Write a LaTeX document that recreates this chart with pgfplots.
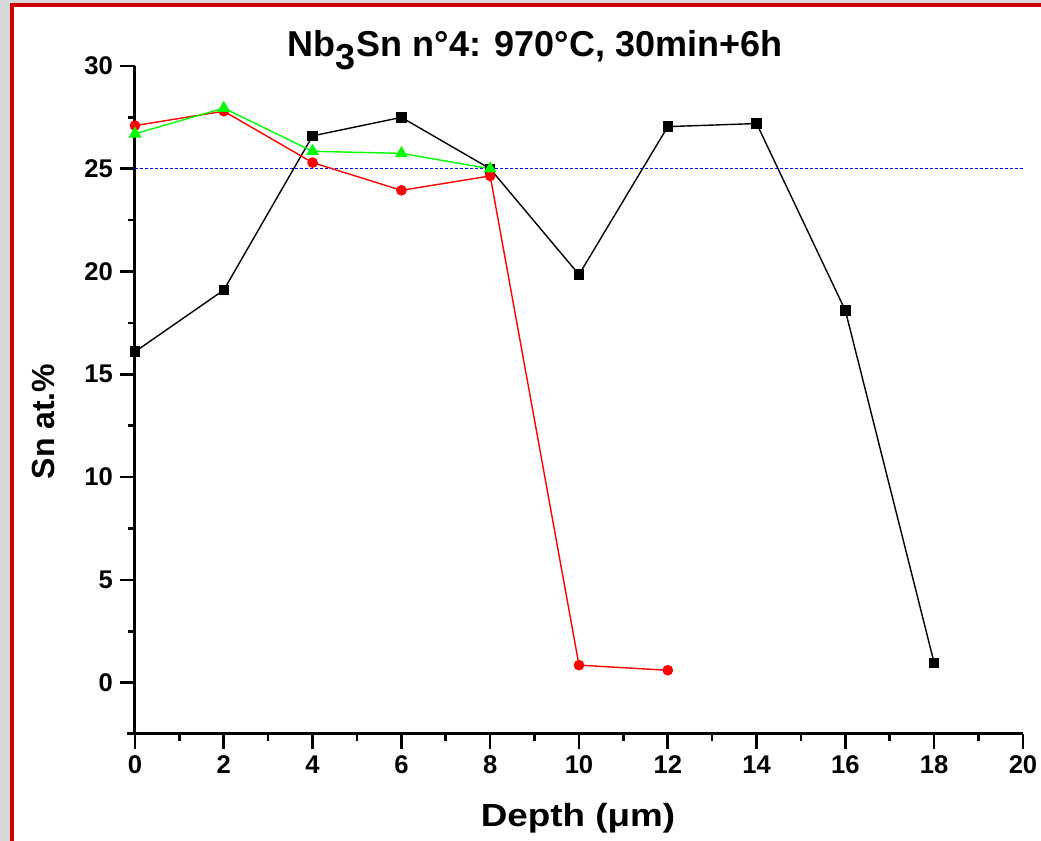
\documentclass[border=0pt]{standalone}
\usepackage{pgfplots}
\pgfplotsset{compat=1.18}
\usepackage{fontspec}
\setmainfont{Liberation Sans}
\definecolor{bordred}{RGB}{204,0,0}
\definecolor{bggray}{RGB}{216,216,216}
\definecolor{mygreen}{RGB}{0,255,0}
\definecolor{myred}{RGB}{255,0,0}
\definecolor{myblue}{RGB}{0,0,255}
\begin{document}
\begin{tikzpicture}
\path[use as bounding box] (0,0) rectangle (520.5pt,420.5pt);
\fill[bggray] (0,0) rectangle (520.5pt,420.5pt);
\fill[white] (7pt,0) rectangle (520.5pt,417pt);
\fill[bordred] (5pt,0) rectangle (7pt,419pt);
\fill[bordred] (5pt,417pt) rectangle (520.5pt,419pt);
\begin{axis}[
  at={(67.5pt,53.5pt)}, anchor=south west,
  scale only axis, width=444pt, height=334pt,
  xmin=0, xmax=20, ymin=-2.5, ymax=30,
  axis x line*=bottom, axis y line*=left,
  axis line style={line width=1.5pt},
  x axis line style={shorten <=-4pt},
  xtick={0,2,...,20}, minor xtick={1,3,...,19},
  ytick={0,5,...,30}, minor ytick={2.5,7.5,...,27.5},
  tick align=outside,
  major tick length=7.5pt, minor tick length=3.5pt,
  every tick/.style={black, line width=1.3pt},
  tick label style={font=\fontsize{12.8}{12.8}\selectfont\bfseries},
  /pgf/number format/assume math mode=true,
  clip=false,
  every axis title shift=0pt,
  title={Nb\textsubscript{\fontsize{18}{18}\selectfont 3}Sn n°4: 970°C, 30min+6h},
  title style={font=\fontsize{18}{18}\selectfont\bfseries, at={(axis description cs:0.4505,1.0139)}, anchor=base, yshift=0pt, inner sep=0pt},
  xlabel={Depth (μm)},
  xlabel style={font=\fontsize{16}{16}\selectfont\bfseries, xscale=1.15, at={(axis description cs:0.4989,-0.1392)}, anchor=base, inner sep=0pt},
  ylabel={Sn at.\%},
  ylabel style={font=\fontsize{16}{16}\selectfont\bfseries, at={(axis description cs:-0.0901,0.4678)}, anchor=base, inner sep=0pt},
]
\addplot[myblue, line width=0.6pt, dash pattern=on 1.5pt off 1pt] coordinates {(0,25) (20,25)};
\addplot[black, line width=0.7pt, mark=square*, mark size=2.25pt, mark options={solid}] coordinates {
(0,16.1) (2,19.1) (4,26.6) (6,27.5) (8,25.0) (10,19.85) (12,27.05) (14,27.2) (16,18.1) (18,0.95)};
\addplot[myred, line width=0.7pt, mark=*, mark size=2.3pt, mark options={solid}] coordinates {
(0,27.1) (2,27.8) (4,25.3) (6,23.95) (8,24.65) (10,0.85) (12,0.6)};
\addplot[mygreen, line width=0.7pt, mark=triangle*, mark size=3pt, mark options={solid}] coordinates {
(0,26.7) (2,27.95) (4,25.85) (6,25.75) (8,25.0)};
\end{axis}
\end{tikzpicture}
\end{document}
